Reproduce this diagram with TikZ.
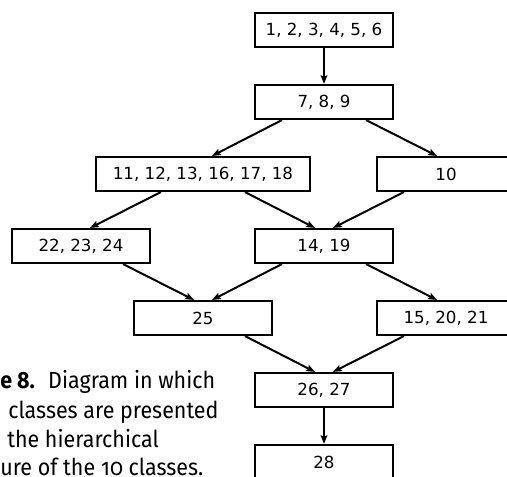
\documentclass[tikz,border=0pt]{standalone}
\usepackage{fontspec}
\setmainfont{DejaVu Sans}
\newfontfamily\capfont[Numbers=OldStyle,FakeStretch=0.92]{Fira Sans}
\usetikzlibrary{arrows.meta}
\begin{document}
\begin{tikzpicture}[x=0.75pt,y=-0.75pt,
  box/.style={draw, line width=1.6pt, minimum width=103.5pt, minimum height=25.5pt,
    inner sep=0pt, font=\fontsize{12.5pt}{14pt}\selectfont},
  widebox/.style={box, minimum width=160.5pt},
  arr/.style={line width=1.5pt, -{Stealth[length=6.5pt,width=5pt,inset=1.2pt]}},
  captext/.style={anchor=base west, inner sep=0pt, font=\capfont\fontsize{17.5pt}{20pt}\selectfont}]
\useasboundingbox (0,0) rectangle (507,477);

% class boxes
\node[box]     (b1)  at (324,30)  {1, 2, 3, 4, 5, 6};
\node[box]     (b2)  at (324,102) {7, 8, 9};
\node[widebox] (b3)  at (203,174) {11, 12, 13, 16, 17, 18};
\node[box]     (b4)  at (446,174) {10};
\node[box]     (b5)  at (81,246)  {22, 23, 24};
\node[box]     (b6)  at (324,246) {14, 19};
\node[box]     (b7)  at (203,318) {25};
\node[box]     (b8)  at (446,318) {15, 20, 21};
\node[box]     (b9)  at (324,390) {26, 27};
\node[box]     (b10) at (324,462) {28};

% hierarchy links
\draw[arr] (b1.south) -- (b2.north);
\draw[arr] ([xshift=-31.5pt]b2.south) -- ([xshift=6.75pt]b3.north);
\draw[arr] ([xshift=31.5pt]b2.south)  -- ([xshift=-6.75pt]b4.north);
\draw[arr] ([xshift=-31.5pt]b3.south) -- ([xshift=6.75pt]b5.north);
\draw[arr] ([xshift=31.5pt]b3.south)  -- ([xshift=-6.75pt]b6.north);
\draw[arr] ([xshift=-31.5pt]b4.south) -- ([xshift=6.75pt]b6.north);
\draw[arr] ([xshift=31.5pt]b5.south)  -- ([xshift=-6.75pt]b7.north);
\draw[arr] ([xshift=-31.5pt]b6.south) -- ([xshift=6.75pt]b7.north);
\draw[arr] ([xshift=31.5pt]b6.south)  -- ([xshift=-6.75pt]b8.north);
\draw[arr] ([xshift=31.5pt]b7.south)  -- ([xshift=-6.75pt]b9.north);
\draw[arr] ([xshift=-31.5pt]b8.south) -- ([xshift=6.75pt]b9.north);
\draw[arr] (b9.south) -- (b10.north);

% caption
\node[captext] (c1) at (0,388) {\textbf{e 8.}\hspace{0.25em} Diagram in which};
\node[captext] (c2) at (8,418) {classes are presented};
\node[captext] (c3) at (7,447) {the hierarchical};
\node[captext] (c4) at (0,475) {ure of the 10 classes.};
\end{tikzpicture}
\end{document}
